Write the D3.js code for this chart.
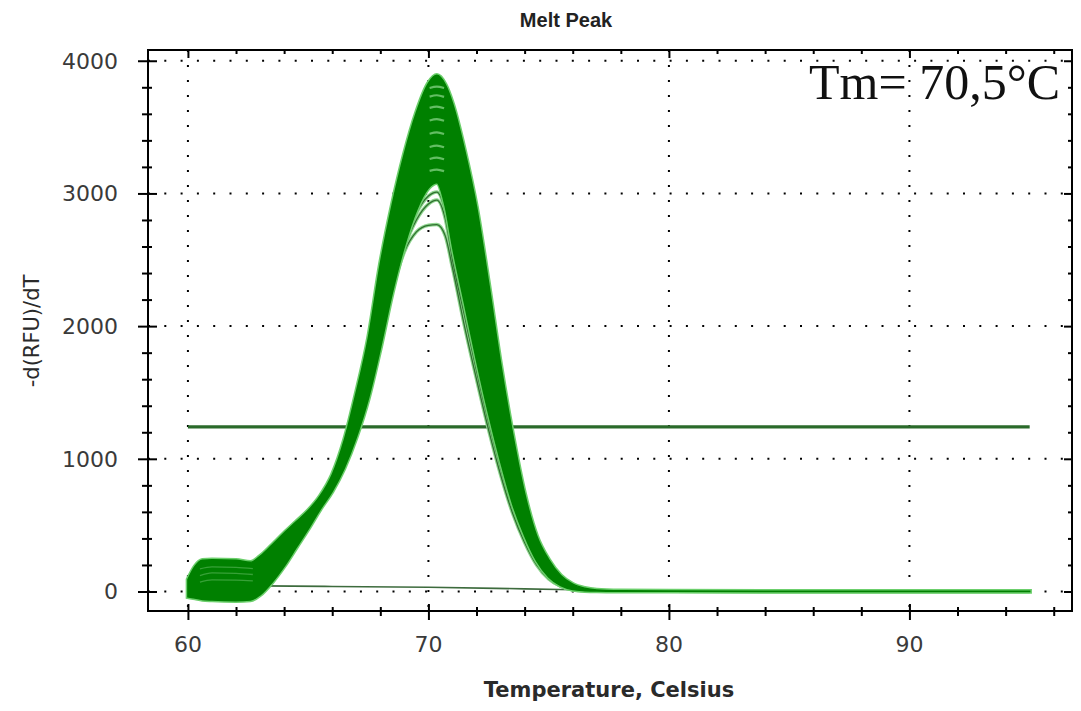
<!DOCTYPE html>
<html>
<head>
<meta charset="utf-8">
<script src="https://cdn.jsdelivr.net/npm/d3@7"></script>
<style>
  body { margin: 0; background: #fff; }
  svg { display: block; }
</style>
</head>
<body>
<div class="js-vis"></div>
<script>
// temperature grid shared by the melt curves
const temps = [60, 60.3, 60.6, 61, 62, 62.6, 63, 63.5, 64, 64.5, 65, 65.5, 66, 66.5, 67, 67.5, 68, 68.5, 69, 69.5,
  70, 70.35, 70.7, 71, 71.5, 72, 72.5, 73, 73.5, 74, 74.5, 75, 75.5, 76, 76.5, 77, 78, 80, 85, 90, 95]

// outer edges of the dense bundle of wells (highest and lowest curve)
const bandTop = [90, 190, 235, 240, 235, 220, 265, 350, 440, 525, 610, 720, 880, 1140, 1500, 1910, 2470, 2920, 3300, 3610,
  3830, 3890, 3820, 3680, 3330, 2900, 2330, 1720, 1190, 740, 420, 240, 120, 55, 25, 12, 6, 3, 2, 2, 2]
const bandBottom = [-40, -50, -60, -65, -70, -65, -25, 70, 190, 330, 470, 620, 755, 930, 1160, 1450, 1830, 2250, 2600, 2870,
  3040, 3080, 2900, 2600, 2170, 1740, 1340, 980, 660, 420, 230, 110, 45, 15, 6, 3, 2, 1, 0, 0, 0]

// wells that peak below the bundle
const wellA = [-30, -40, -50, -55, -60, -55, -15, 80, 200, 340, 480, 630, 765, 940, 1170, 1460, 1850, 2260, 2610, 2850,
  2980, 3010, 2860, 2550, 2110, 1690, 1300, 950, 640, 405, 220, 105, 42, 14, 6, 3, 2, 1, 0, 0, 0]
const wellB = [-20, -35, -45, -50, -55, -50, -10, 80, 200, 340, 485, 635, 770, 945, 1180, 1480, 1860, 2265, 2590, 2800,
  2920, 2950, 2810, 2500, 2080, 1660, 1275, 930, 625, 395, 215, 100, 40, 13, 5, 3, 2, 1, 0, 0, 0]
const wellC = [-20, -30, -35, -40, -45, -40, 0, 85, 205, 345, 490, 640, 775, 955, 1200, 1500, 1880, 2270, 2560, 2710,
  2760, 2765, 2680, 2440, 2000, 1600, 1220, 880, 590, 370, 200, 95, 40, 14, 6, 3, 2, 1, 0, 0, 0]

// tops of wells inside the bundle (visible as light gaps at the peak)
const peakTemps = [70.05, 70.35, 70.65]
const peakTops = [
  [3795, 3805, 3795], [3730, 3740, 3728], [3645, 3655, 3642], [3550, 3560, 3548],
  [3450, 3460, 3448], [3350, 3360, 3348], [3260, 3270, 3258], [3170, 3180, 3168]
]

// light gaps between wells on the low-temperature plateau
const plateauTemps = [60.5, 61, 62, 62.7]
const plateauLines = [[170, 185, 182, 172], [120, 140, 137, 128], [70, 88, 86, 80]]

// no template control
const negTemps = [60, 63, 66, 70, 74, 78, 82, 95]
const negValues = [45, 42, 38, 32, 20, 8, 4, 3]

const threshold = 1240
const thresholdRange = [60, 95]

const xMajor = [60, 70, 80, 90],
    xMinor = [62, 64, 66, 68, 72, 74, 76, 78, 82, 84, 86, 88, 92, 94, 96],
    yMajor = [0, 1000, 2000, 3000, 4000],
    yMinor = [200, 400, 600, 800, 1200, 1400, 1600, 1800, 2200, 2400, 2600, 2800, 3200, 3400, 3600, 3800]

const margin = { top: 50, right: 9, bottom: 100, left: 148 },
    width = 1081 - margin.left - margin.right,
    height = 711 - margin.top - margin.bottom

const x = d3.scaleLinear().domain([58.34, 96.76]).range([0, width])
const y = d3.scaleLinear().domain([-147, 4081]).range([height, 0])

const svg = d3.select(".js-vis").append("svg")
  .attr("width", 1081)
  .attr("height", 711)

const vis = svg.append("g")
  .attr("transform", "translate(" + margin.left + "," + margin.top + ")")

vis.append("clipPath").attr("id", "plot")
  .append("rect").attr("width", width).attr("height", height)

// dotted grid
vis.selectAll(".vgrid")
  .data(xMajor)
.enter().append("line")
  .attr("x1", d => x(d)).attr("x2", d => x(d))
  .attr("y1", 0).attr("y2", height)
  .attr("stroke", "#000").attr("stroke-width", 2)
  .attr("stroke-dasharray", "2,13")

vis.selectAll(".hgrid")
  .data(yMajor)
.enter().append("line")
  .attr("x1", 0).attr("x2", width)
  .attr("y1", d => y(d)).attr("y2", d => y(d))
  .attr("stroke", "#000").attr("stroke-width", 2)
  .attr("stroke-dasharray", "2,14.3")

const plot = vis.append("g").attr("clip-path", "url(#plot)")

const line = d3.line()
  .x((d, i) => x(temps[i]))
  .y(d => y(d))
  .curve(d3.curveMonotoneX)

// threshold
plot.append("line")
  .attr("x1", x(thresholdRange[0])).attr("x2", x(thresholdRange[1]))
  .attr("y1", y(threshold)).attr("y2", y(threshold))
  .attr("stroke", "#2a6a2a").attr("stroke-width", 3.2)

// negative control
plot.append("path")
  .datum(negValues)
  .attr("d", d3.line().x((d, i) => x(negTemps[i])).y(d => y(d)).curve(d3.curveMonotoneX))
  .attr("fill", "none").attr("stroke", "#3d6b3d").attr("stroke-width", 1.6)

// low wells
const lows = [wellA, wellB, wellC]
plot.selectAll(".lowHalo")
  .data(lows)
.enter().append("path")
  .attr("d", line)
  .attr("fill", "none").attr("stroke", "#8fd68f").attr("stroke-width", 3.5)

plot.selectAll(".low")
  .data(lows)
.enter().append("path")
  .attr("d", line)
  .attr("fill", "none").attr("stroke", "#2f6f2f").attr("stroke-width", 1.3)

// dense bundle
const band = d3.area()
  .x((d, i) => x(temps[i]))
  .y0((d, i) => y(bandBottom[i]))
  .y1((d, i) => y(bandTop[i]))
  .curve(d3.curveMonotoneX)

plot.append("path")
  .datum(temps)
  .attr("d", band)
  .attr("fill", "none").attr("stroke", "#6ccf6c").attr("stroke-width", 4.5)

plot.append("path")
  .datum(temps)
  .attr("d", band)
  .attr("fill", "#008000").attr("stroke", "#008000").attr("stroke-width", 1.5)

plot.selectAll(".peak")
  .data(peakTops)
.enter().append("path")
  .attr("d", d3.line().x((d, i) => x(peakTemps[i])).y(d => y(d)).curve(d3.curveMonotoneX))
  .attr("fill", "none").attr("stroke", "#8fd88f").attr("stroke-width", 2.2)
  .attr("stroke-opacity", 0.7)

plot.selectAll(".plateau")
  .data(plateauLines)
.enter().append("path")
  .attr("d", d3.line().x((d, i) => x(plateauTemps[i])).y(d => y(d)).curve(d3.curveMonotoneX))
  .attr("fill", "none").attr("stroke", "#5cb85c").attr("stroke-width", 1.3)
  .attr("stroke-opacity", 0.6)

// Tm annotation
plot.append("text")
  .attr("x", 661).attr("y", 49)
  .attr("font-family", "'Liberation Serif', 'Times New Roman', serif")
  .attr("font-size", 50)
  .attr("fill", "#111")
  .text("Tm= 70,5°C")

// axes
const fontTick = "'DejaVu Sans', Verdana, sans-serif"

function crossTicks(g, attr, inn) {
  g.select(".domain").remove()
  g.selectAll(".tick line").attr(attr, inn).attr("stroke-width", 2)
  g.selectAll(".tick text").remove()
}

vis.append("g")
  .call(d3.axisLeft(y).tickValues(yMajor).tickSize(10).tickFormat(""))
  .call(g => crossTicks(g, "x1", 9))
vis.append("g")
  .call(d3.axisLeft(y).tickValues(yMinor).tickSize(6).tickFormat(""))
  .call(g => crossTicks(g, "x1", 4))

vis.append("g")
  .attr("transform", "translate(0," + height + ")")
  .call(d3.axisBottom(x).tickValues(xMajor).tickSize(9).tickFormat(""))
  .call(g => crossTicks(g, "y1", -7))
vis.append("g")
  .attr("transform", "translate(0," + height + ")")
  .call(d3.axisBottom(x).tickValues(xMinor).tickSize(5).tickFormat(""))
  .call(g => crossTicks(g, "y1", -4))

vis.append("g")
  .call(d3.axisBottom(x).tickValues(xMajor).tickSize(8).tickFormat(""))
  .call(g => crossTicks(g, "y1", 0))
vis.append("g")
  .call(d3.axisBottom(x).tickValues(xMinor).tickSize(4).tickFormat(""))
  .call(g => crossTicks(g, "y1", 0))

vis.append("g")
  .attr("transform", "translate(" + width + ",0)")
  .call(d3.axisLeft(y).tickValues(yMajor).tickSize(8).tickFormat(""))
  .call(g => crossTicks(g, "x1", 0))
vis.append("g")
  .attr("transform", "translate(" + width + ",0)")
  .call(d3.axisLeft(y).tickValues(yMinor).tickSize(4).tickFormat(""))
  .call(g => crossTicks(g, "x1", 0))

vis.append("rect")
  .attr("width", width).attr("height", height)
  .attr("fill", "none").attr("stroke", "#000").attr("stroke-width", 2)

// tick labels
vis.selectAll(".ylab")
  .data(yMajor)
.enter().append("text")
  .attr("x", -30).attr("y", d => y(d)).attr("dy", "0.36em")
  .attr("text-anchor", "end")
  .attr("font-family", fontTick).attr("font-size", 22)
  .attr("fill", "#3a3a3a")
  .text(d => d)

vis.selectAll(".xlab")
  .data(xMajor)
.enter().append("text")
  .attr("x", d => x(d)).attr("y", height + 41)
  .attr("text-anchor", "middle")
  .attr("font-family", fontTick).attr("font-size", 22)
  .attr("fill", "#3a3a3a")
  .text(d => d)

// titles
svg.append("text")
  .attr("x", 566).attr("y", 27)
  .attr("text-anchor", "middle")
  .attr("font-family", "'Liberation Sans Narrow', 'Arial Narrow', Arial, sans-serif")
  .attr("font-weight", "bold").attr("font-size", 20)
  .attr("fill", "#222")
  .text("Melt Peak")

svg.append("text")
  .attr("x", 609).attr("y", 697)
  .attr("text-anchor", "middle")
  .attr("font-family", fontTick).attr("font-weight", "bold").attr("font-size", 21)
  .attr("fill", "#2a2a2a")
  .text("Temperature, Celsius")

svg.append("text")
  .attr("transform", "translate(39,331) rotate(-90)")
  .attr("text-anchor", "middle")
  .attr("font-family", fontTick).attr("font-size", 21)
  .attr("fill", "#2a2a2a")
  .text("-d(RFU)/dT")
</script>
</body>
</html>
